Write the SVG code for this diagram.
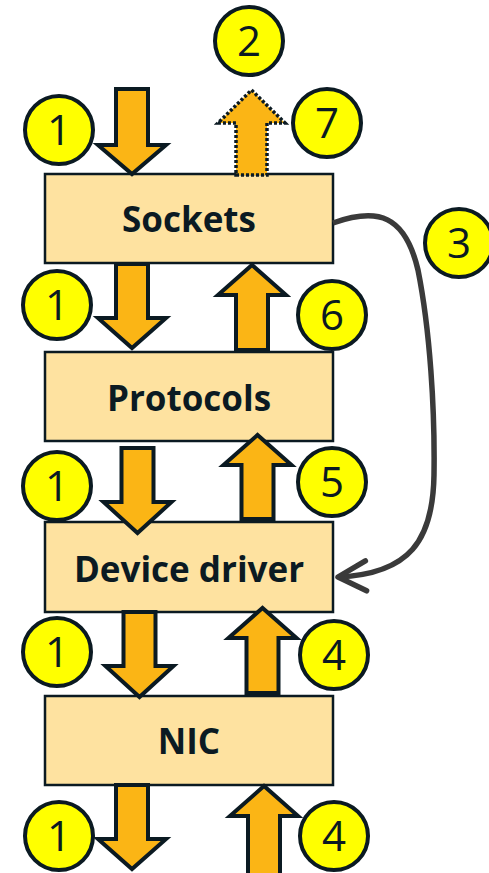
<svg xmlns="http://www.w3.org/2000/svg" width="489" height="873" viewBox="0 0 489 873">
<style>
.box{fill:#FEE2A0;stroke:#0B1A22;stroke-width:2.5}
.lbl{font-family:"Open Sans","Liberation Sans",sans-serif;font-weight:700;font-size:35px;fill:#0B1A22;text-anchor:middle}
.badge circle{fill:#FFFF00;stroke:#0B1A22;stroke-width:4}
.badge text{font-family:"Open Sans","Liberation Sans",sans-serif;font-size:42px;fill:#0B1A22;text-anchor:middle}
.blk{fill:#FBB515;stroke:#0B1A22;stroke-width:4;stroke-linejoin:miter}
.dot{stroke-dasharray:3 2;stroke-width:3.5}
.conn{fill:none;stroke:#3A3A3A;stroke-width:5.5}
</style>
<defs>
<marker id="chev" markerUnits="userSpaceOnUse" markerWidth="40" markerHeight="40" refX="31" refY="20" orient="auto" overflow="visible">
<path d="M3,5 L31,20 L3,35" fill="none" stroke="#3A3A3A" stroke-width="5.5" stroke-linecap="round" stroke-linejoin="round"/>
</marker>
</defs>
<rect width="489" height="873" fill="#FFFFFF"/>
<g id="sockets"><rect class="box" x="45" y="174" width="288" height="89"/><text class="lbl" x="189" y="232">Sockets</text></g>
<g id="protocols"><rect class="box" x="45" y="352" width="288" height="89"/><text class="lbl" x="189" y="411">Protocols</text></g>
<g id="device-driver"><rect class="box" x="45" y="522" width="288" height="90"/><text class="lbl" x="189" y="582">Device driver</text></g>
<g id="nic"><rect class="box" x="45" y="696" width="288" height="89"/><text class="lbl" x="189" y="754">NIC</text></g>
<g id="flows">
<path class="blk" d="M116,89 H148 V145 H166 L132,174 L98,145 H116 Z"/>
<path class="blk dot" d="M236,175 H267 V123 H285 L251.5,90 L218,123 H236 Z"/>
<path class="blk" d="M116,264 H148 V318 H166 L132,348 L98,318 H116 Z"/>
<path class="blk" d="M236,350 H268 V295 H286 L252,265 L218,295 H236 Z"/>
<path class="blk" d="M121.5,448 H153.5 V502 H171.5 L137.5,533 L103.5,502 H121.5 Z"/>
<path class="blk" d="M241.5,519 H273.5 V465 H291.5 L257.5,435 L223.5,465 H241.5 Z"/>
<path class="blk" d="M123.5,612 H155.5 V666 H173.5 L139.5,697 L105.5,666 H123.5 Z"/>
<path class="blk" d="M246.5,693 H278.5 V638 H296.5 L262.5,608 L228.5,638 H246.5 Z"/>
<path class="blk" d="M116,785 H148 V839 H166 L132,869 L98,839 H116 Z"/>
<path class="blk" d="M248,880 H280 V816 H298 L264,786 L230,816 H248 Z"/>
</g>
<g id="connectors">
<path class="conn" d="M333,223 C378,207 405,215 418,270 C430,330 435,410 434,475 C433,540 410,574 338,577" marker-end="url(#chev)"/>
</g>
<g id="badge-1a" class="badge"><circle cx="59" cy="130" r="34"/><text x="59" y="145">1</text></g>
<g id="badge-2" class="badge"><circle cx="249" cy="41" r="34"/><text x="249" y="56">2</text></g>
<g id="badge-7" class="badge"><circle cx="327" cy="123" r="34"/><text x="327" y="138">7</text></g>
<g id="badge-3" class="badge"><circle cx="459" cy="243" r="34"/><text x="459" y="258">3</text></g>
<g id="badge-1b" class="badge"><circle cx="57" cy="305" r="34"/><text x="57" y="320">1</text></g>
<g id="badge-6" class="badge"><circle cx="332" cy="315" r="34"/><text x="332" y="330">6</text></g>
<g id="badge-1c" class="badge"><circle cx="57" cy="486" r="34"/><text x="57" y="501">1</text></g>
<g id="badge-5" class="badge"><circle cx="332" cy="482" r="34"/><text x="332" y="497">5</text></g>
<g id="badge-1d" class="badge"><circle cx="57" cy="652" r="34"/><text x="57" y="667">1</text></g>
<g id="badge-4a" class="badge"><circle cx="334" cy="655" r="34"/><text x="334" y="670">4</text></g>
<g id="badge-1e" class="badge"><circle cx="59" cy="836" r="34"/><text x="59" y="851">1</text></g>
<g id="badge-4b" class="badge"><circle cx="334" cy="836" r="34"/><text x="334" y="851">4</text></g>
</svg>
